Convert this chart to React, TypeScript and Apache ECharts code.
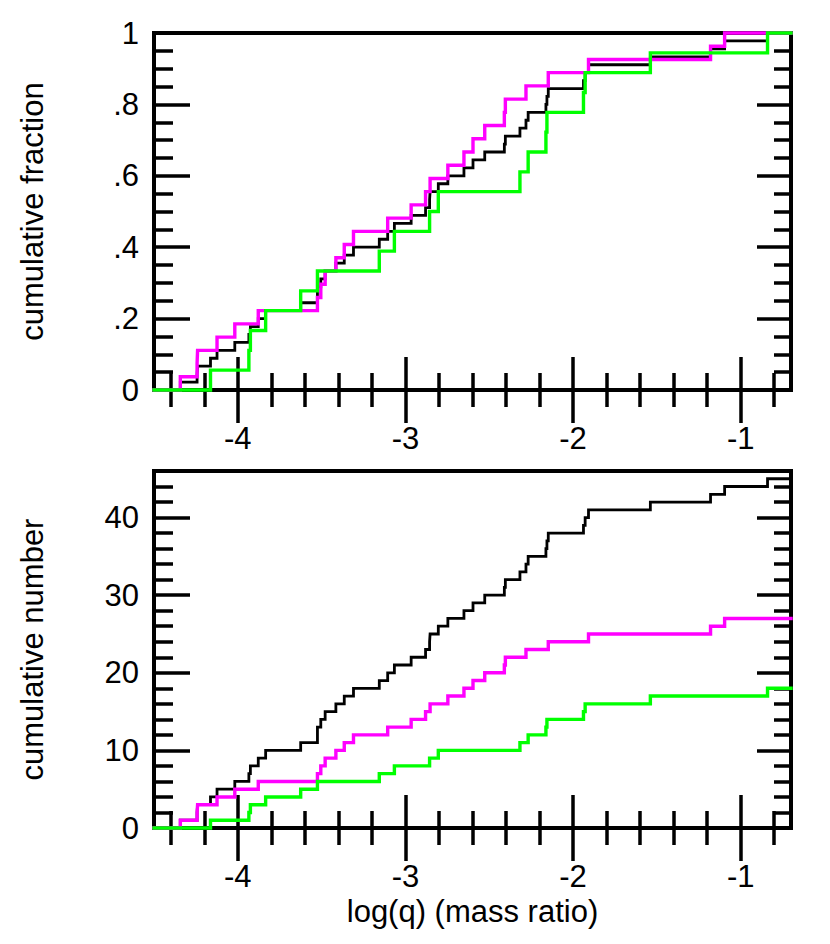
import React, { useEffect, useRef } from "react";
import * as echarts from "echarts";

// ---- data (step positions in log(q)) ----
const X_MIN = -4.5;
const X_MAX = -0.7;

const magentaSteps = [
  -4.343, -4.243, -4.24, -4.124, -4.018, -3.878, -3.525, -3.505, -3.479, -3.415,
  -3.365, -3.31, -3.106, -2.966, -2.88, -2.853, -2.747, -2.651, -2.597, -2.527,
  -2.41, -2.404, -2.281, -2.148, -1.908, -1.18, -1.096,
];

const greenSteps = [
  -4.163, -3.934, -3.925, -3.834, -3.625, -3.525, -3.156, -3.066, -2.856, -2.804,
  -2.317, -2.268, -2.162, -2.156, -1.938, -1.928, -1.539, -0.84,
];

const blackSteps = [
  -4.343, -4.243, -4.24, -4.163, -4.124, -4.018, -3.934, -3.925, -3.878, -3.834,
  -3.625, -3.525, -3.525, -3.505, -3.479, -3.415, -3.365, -3.31, -3.156, -3.106,
  -3.066, -2.966, -2.88, -2.856, -2.853, -2.804, -2.747, -2.651, -2.597, -2.527,
  -2.41, -2.404, -2.317, -2.281, -2.268, -2.162, -2.156, -2.148, -1.938, -1.928,
  -1.908, -1.539, -1.18, -1.096, -0.84,
];

// ---- ticks ----
const xMajorTicks = [-4, -3, -2, -1];
const xTickLabels = ["-4", "-3", "-2", "-1"];
const xMinorTicks = [
  -4.4, -4.2, -3.8, -3.6, -3.4, -3.2, -2.8, -2.6, -2.4, -2.2, -1.8, -1.6, -1.4, -1.2, -0.8,
];
const fracMajorTicks = [0, 0.2, 0.4, 0.6, 0.8, 1];
const fracTickLabels = ["0", ".2", ".4", ".6", ".8", "1"];
const fracMinorTicks = [
  0.05, 0.1, 0.15, 0.25, 0.3, 0.35, 0.45, 0.5, 0.55, 0.65, 0.7, 0.75, 0.85, 0.9, 0.95,
];
const numMajorTicks = [0, 10, 20, 30, 40];
const numTickLabels = ["0", "10", "20", "30", "40"];
const numMinorTicks = [
  2, 4, 6, 8, 12, 14, 16, 18, 22, 24, 26, 28, 32, 34, 36, 38, 42, 44,
];
const NUM_MAX = 46;

const FONT = "'Liberation Sans', Arial, sans-serif";
const FS = 31;
const MAJOR_LEN = 33;
const MINOR_LEN = 17;
const TICK_W = 3.5;

function labelFor(values: number[], labels: string[]) {
  return (v: number) => {
    const i = values.findIndex((t) => Math.abs(t - v) < 1e-9);
    return i >= 0 ? labels[i] : "";
  };
}

function makeX(gridIndex: number, position: string, ticks: number[], len: number, labels: boolean, name?: string) {
  const ax: any = {
    type: "value",
    gridIndex,
    position,
    min: X_MIN,
    max: X_MAX,
    axisLine: { show: false },
    splitLine: { show: false },
    axisTick: {
      show: true,
      inside: true,
      length: len,
      customValues: ticks,
      lineStyle: { color: "#000", width: TICK_W },
    },
    axisLabel: labels
      ? {
          show: true,
          customValues: xMajorTicks,
          formatter: labelFor(xMajorTicks, xTickLabels),
          fontSize: FS,
          fontFamily: FONT,
          color: "#000",
          margin: 33,
        }
      : { show: false },
  };
  if (name) {
    ax.name = name;
    ax.nameLocation = "middle";
    ax.nameGap = 68;
    ax.nameTextStyle = { fontSize: FS, fontFamily: FONT, color: "#000", verticalAlign: "top" };
  }
  return ax;
}

function makeY(gridIndex: number, position: string, max: number, ticks: number[], len: number,
  labelVals: number[] | null, labelTexts: string[] | null, name?: string) {
  const ax: any = {
    type: "value",
    gridIndex,
    position,
    min: 0,
    max,
    axisLine: { show: false },
    splitLine: { show: false },
    axisTick: {
      show: true,
      inside: true,
      length: len,
      customValues: ticks,
      lineStyle: { color: "#000", width: TICK_W },
    },
    axisLabel: labelVals
      ? {
          show: true,
          customValues: labelVals,
          formatter: labelFor(labelVals, labelTexts as string[]),
          fontSize: FS,
          fontFamily: FONT,
          color: "#000",
          margin: 15,
        }
      : { show: false },
  };
  if (name) {
    ax.name = name;
    ax.nameLocation = "middle";
    ax.nameGap = 106;
    ax.nameRotate = 90;
    ax.nameTextStyle = { fontSize: FS, fontFamily: FONT, color: "#000" };
  }
  return ax;
}

function cumulative(steps: number[], fraction: boolean) {
  const n = steps.length;
  const pts: number[][] = [[X_MIN, 0]];
  steps.forEach((x, i) => pts.push([x, fraction ? (i + 1) / n : i + 1]));
  pts.push([X_MAX, fraction ? 1 : n]);
  return pts;
}

const seriesDefs = [
  { name: "all", steps: blackSteps, color: "#000000", width: 2.8 },
  { name: "magenta", steps: magentaSteps, color: "#ff00ff", width: 3.4 },
  { name: "green", steps: greenSteps, color: "#00ff00", width: 3.4 },
];

export default function App() {
  const ref = useRef<HTMLDivElement>(null);
  useEffect(() => {
    if (!ref.current) return;
    const chart = echarts.init(ref.current, undefined, { renderer: "svg" });
    const grids = [
      { left: 154, top: 33, width: 637, height: 357 },
      { left: 154, top: 471, width: 637, height: 357 },
    ].map((g) => ({
      ...g,
      show: true,
      borderColor: "#000",
      borderWidth: 4,
      backgroundColor: "transparent",
      containLabel: false,
      outerBoundsMode: "none",
    }));

    const xAxis = [
      makeX(0, "bottom", xMajorTicks, MAJOR_LEN, true),
      makeX(0, "bottom", xMinorTicks, MINOR_LEN, false),
      makeX(0, "top", xMajorTicks, MAJOR_LEN, false),
      makeX(0, "top", xMinorTicks, MINOR_LEN, false),
      makeX(1, "bottom", xMajorTicks, MAJOR_LEN, true, "log(q) (mass ratio)"),
      makeX(1, "bottom", xMinorTicks, MINOR_LEN, false),
      makeX(1, "top", xMajorTicks, MAJOR_LEN, false),
      makeX(1, "top", xMinorTicks, MINOR_LEN, false),
    ];
    const yAxis = [
      makeY(0, "left", 1, fracMajorTicks, MAJOR_LEN + 3, fracMajorTicks, fracTickLabels, "cumulative fraction"),
      makeY(0, "left", 1, fracMinorTicks, MINOR_LEN + 2, null, null),
      makeY(0, "right", 1, fracMajorTicks, MAJOR_LEN + 1, null, null),
      makeY(0, "right", 1, fracMinorTicks, MINOR_LEN, null, null),
      makeY(1, "left", NUM_MAX, numMajorTicks, MAJOR_LEN + 3, numMajorTicks, numTickLabels, "cumulative number"),
      makeY(1, "left", NUM_MAX, numMinorTicks, MINOR_LEN + 2, null, null),
      makeY(1, "right", NUM_MAX, numMajorTicks, MAJOR_LEN + 1, null, null),
      makeY(1, "right", NUM_MAX, numMinorTicks, MINOR_LEN, null, null),
    ];

    const series: any[] = [];
    [true, false].forEach((fraction, gi) => {
      seriesDefs.forEach((s, si) => {
        series.push({
          type: "line",
          name: s.name,
          xAxisIndex: gi * 4,
          yAxisIndex: gi * 4,
          step: "end",
          showSymbol: false,
          symbol: "none",
          clip: false,
          z: 3 + si,
          lineStyle: { color: s.color, width: s.width, cap: "square", join: "miter" },
          data: cumulative(s.steps, fraction),
        });
      });
    });

    chart.setOption({
      animation: false,
      backgroundColor: "#fff",
      grid: grids,
      xAxis,
      yAxis,
      series,
    });
    return () => chart.dispose();
  }, []);
  return (
    <div
      ref={ref}
      style={{ position: "fixed", left: 0, top: 0, width: 830, height: 944 }}
    />
  );
}
